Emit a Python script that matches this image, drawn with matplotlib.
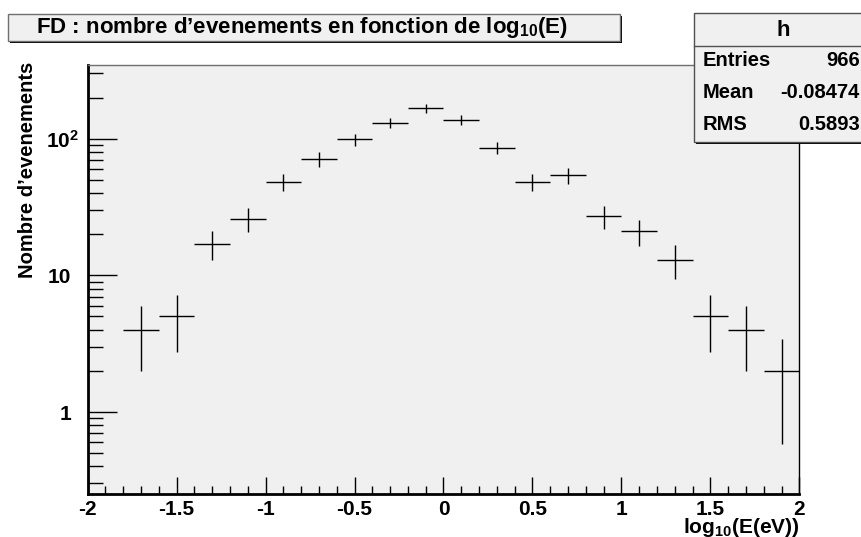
import numpy as np
import matplotlib
matplotlib.use("Agg")
import matplotlib.pyplot as plt
from matplotlib.patches import Rectangle
from matplotlib.transforms import ScaledTranslation
from matplotlib.ticker import LogLocator, FixedLocator, MultipleLocator, FuncFormatter, NullFormatter

plt.rcParams['font.family'] = ['Liberation Sans', 'DejaVu Sans']
plt.rcParams['font.weight'] = 'bold'
plt.rcParams['mathtext.fontset'] = 'custom'
plt.rcParams['mathtext.rm'] = 'Liberation Sans:bold'
plt.rcParams['mathtext.bf'] = 'Liberation Sans:bold'
plt.rcParams['mathtext.it'] = 'Liberation Sans:bold'

# histogram h : 20 bins of log10(E) from -2 to 2 (first bin empty)
bin_centers = [-1.7, -1.5, -1.3, -1.1, -0.9, -0.7, -0.5, -0.3, -0.1,
               0.1, 0.3, 0.5, 0.7, 0.9, 1.1, 1.3, 1.5, 1.7, 1.9]
counts = [4, 5, 17, 26, 48, 71, 99, 131, 167,
          137, 86, 48, 54, 27, 21, 13, 5, 4, 2]
bin_width = 0.2

stat_names = ["Entries", "Mean", "RMS"]
stat_values = ["966", "-0.08474", "0.5893"]

W, H = 862, 537
fig = plt.figure(figsize=(W / 100, H / 100), dpi=100)
fig.patch.set_facecolor("white")

def fx(px):
	return px / W

def fy(py):
	return 1 - py / H

ax = fig.add_axes([fx(87.7), fy(494.3), fx(799.3) - fx(87.7), fy(65) - fy(494.3)])
ax.set_facecolor("#f0f0f0")

c = np.array(counts, dtype=float)
ax.errorbar(bin_centers, c, xerr=bin_width / 2, yerr=np.sqrt(c), fmt="none",
			ecolor="black", elinewidth=1.0, capsize=0)

ax.set_yscale("log")
ax.set_xlim(-2, 2)
ax.set_ylim(0.25, 346)

ax.xaxis.set_major_locator(MultipleLocator(0.5))
ax.xaxis.set_minor_locator(MultipleLocator(0.1))
ax.xaxis.set_major_formatter(FuncFormatter(lambda v, p: "%g" % v))

ax.yaxis.set_major_locator(FixedLocator([1, 10, 100]))
ax.yaxis.set_minor_locator(LogLocator(base=10, subs=np.arange(2, 10), numticks=20))
ax.set_yticks([1, 10, 100])
ax.set_yticklabels(["1", "10", r"$\mathbf{10^{2}}$"])
ax.yaxis.set_minor_formatter(NullFormatter())

ax.tick_params(axis="x", which="major", direction="in", length=12, width=1, labelsize=15, pad=4)
ax.tick_params(axis="x", which="minor", direction="in", length=6, width=1)
ax.tick_params(axis="y", which="major", direction="in", length=21, width=1, labelsize=15, pad=12)
ax.tick_params(axis="y", which="minor", direction="in", length=10.7, width=1)
for lab in ax.get_xticklabels() + ax.get_yticklabels():
	lab.set_fontweight("bold")
# ROOT keeps the "10" aligned and lets the exponent stick out to the right
lab100 = ax.get_yticklabels()[2]
lab100.set_transform(lab100.get_transform() + ScaledTranslation(8 / 100, 0, fig.dpi_scale_trans))

ax.spines["left"].set_linewidth(2)
ax.spines["bottom"].set_linewidth(2)
ax.spines["top"].set_linewidth(1)
ax.spines["top"].set_color("#707070")
ax.spines["right"].set_linewidth(1)

ax.set_xlabel(r"log$_{10}$(E(eV))", fontsize=15, fontweight="bold", loc="right")
ax.xaxis.set_label_coords(1.0, -0.051)
ax.set_ylabel("Nombre d\u2019evenements", fontsize=14.5, fontweight="bold", loc="top")
ax.yaxis.set_label_coords(-0.071, 1.007)

# title box with shadow
fig.patches.append(Rectangle((fx(10), fy(42.7)), fx(612), fy(14) - fy(40.7),
							 transform=fig.transFigure, facecolor="black", edgecolor="none"))
fig.patches.append(Rectangle((fx(8), fy(40.7)), fx(612), fy(14) - fy(40.7),
							 transform=fig.transFigure, facecolor="#f0f0f0", edgecolor="#707070", lw=1))
fig.text(fx(302), fy(27), "FD : nombre d\u2019evenements en fonction de log$_{10}$(E)",
		 ha="center", va="center", fontsize=16, fontweight="bold")

# stats box
fig.patches.append(Rectangle((fx(696), fy(144)), fx(180), fy(13) - fy(142),
							 transform=fig.transFigure, facecolor="black", edgecolor="none"))
fig.patches.append(Rectangle((fx(694), fy(142)), fx(180), fy(13) - fy(142),
							 transform=fig.transFigure, facecolor="#f0f0f0", edgecolor="#505050", lw=1))
fig.add_artist(plt.Line2D([fx(694), 1], [fy(46), fy(46)], transform=fig.transFigure,
						  color="#505050", lw=1))
fig.text(fx(783), fy(30), "h", ha="center", va="center", fontsize=16, fontweight="bold")
for i, (name, val) in enumerate(zip(stat_names, stat_values)):
	yy = fy(61 + 32 * i)
	fig.text(fx(703), yy, name, ha="left", va="center", fontsize=14.5, fontweight="bold")
	fig.text(fx(860), yy, val, ha="right", va="center", fontsize=14.5, fontweight="bold")

fig.savefig("out.png", dpi=100)
